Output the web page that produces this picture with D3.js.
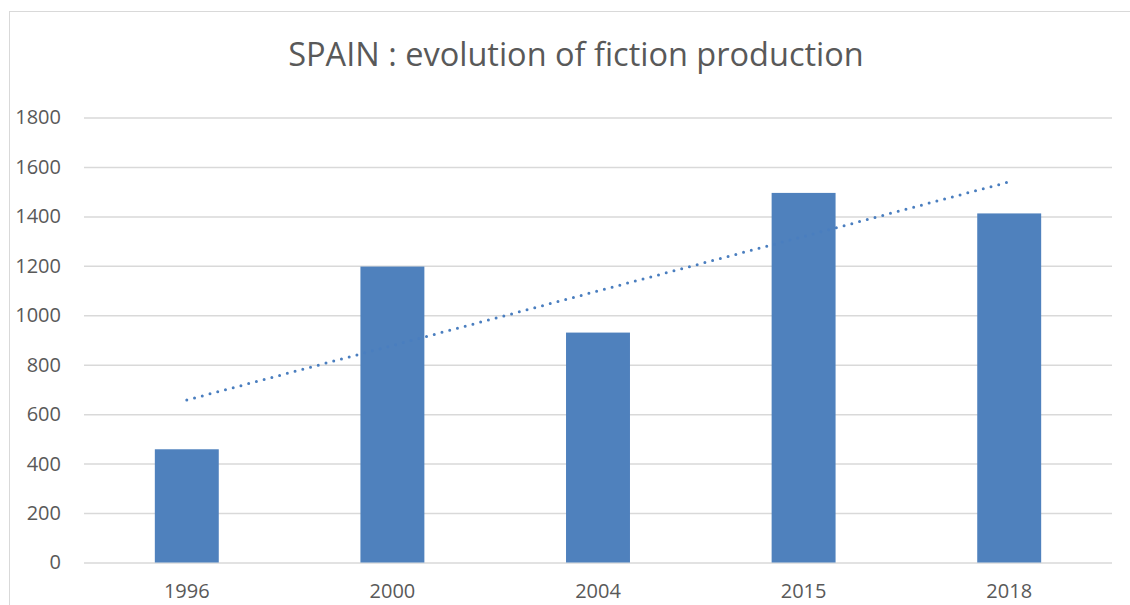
<!DOCTYPE html>
<html>
<head>
<meta charset="utf-8">
<script src="https://cdn.jsdelivr.net/npm/d3@7"></script>
<style>
  body { margin: 0; background: #fff; }
  svg text { font-family: 'Open Sans', sans-serif; fill: #595959; }
</style>
</head>
<body>
<div id="chart"></div>
<script>
const years = ['1996', '2000', '2004', '2015', '2018']
const production = [458, 1197, 930, 1495, 1412]
const yTicks = [0, 200, 400, 600, 800, 1000, 1200, 1400, 1600, 1800]
const title = 'SPAIN : evolution of fiction production'

const width = 1130
const height = 605
const margin = { top: 117.5, bottom: 42.5, left: 84, right: 18 }
const innerWidth = width - margin.left - margin.right
const innerHeight = height - margin.top - margin.bottom

const svg = d3.select('#chart').append('svg')
  .attr('width', width)
  .attr('height', height)

// chart frame
svg.append('rect')
  .attr('x', 9.5)
  .attr('y', 11.5)
  .attr('width', width)
  .attr('height', height)
  .attr('fill', 'none')
  .attr('stroke', '#d9d9d9')
  .attr('stroke-width', 1)

svg.append('text')
  .attr('x', 576)
  .attr('y', 66)
  .attr('text-anchor', 'middle')
  .attr('font-size', 32.5)
  .text(title)

const g = svg.append('g')
  .attr('transform', `translate(${margin.left} ${margin.top})`)

const xScale = d3.scaleBand()
  .domain(years)
  .range([0, innerWidth])

const yScale = d3.scaleLinear()
  .domain([0, 1800])
  .range([innerHeight, 0])

// Y-AXIS + GRID
const yAxis = d3.axisLeft(yScale)
  .tickValues(yTicks)
  .tickFormat(d3.format('d'))
  .tickSizeInner(-innerWidth)
  .tickSizeOuter(0)
  .tickPadding(23)

g.append('g')
  .attr('class', 'y-axis')
  .call(yAxis)
  .call(s => s.select('.domain').remove())
  .call(s => s.selectAll('line').attr('stroke', '#d9d9d9').attr('stroke-width', 1.5))
  .call(s => s.selectAll('text').attr('font-size', 20).attr('fill', '#595959'))

// X-AXIS
const xAxis = d3.axisBottom(xScale)
  .tickSize(0)
  .tickPadding(21)

g.append('g')
  .attr('class', 'x-axis')
  .attr('transform', `translate(0 ${innerHeight})`)
  .call(xAxis)
  .call(s => s.select('.domain').remove())
  .call(s => s.selectAll('text').attr('font-size', 20).attr('fill', '#595959'))

// BARS
const barWidth = xScale.bandwidth() * 0.311
g.append('g')
  .attr('class', 'bars')
  .selectAll('rect')
  .data(production)
  .enter().append('rect')
  .attr('x', (d, i) => xScale(years[i]) + (xScale.bandwidth() - barWidth) / 2)
  .attr('y', d => yScale(d))
  .attr('width', barWidth)
  .attr('height', d => innerHeight - yScale(d))
  .attr('fill', '#4f81bd')

// LINEAR TREND (least squares over category index, like the spreadsheet trendline)
const n = production.length
const xs = production.map((d, i) => i + 1)
const meanX = d3.mean(xs)
const meanY = d3.mean(production)
const slope = d3.sum(xs, (x, i) => (x - meanX) * (production[i] - meanY)) / d3.sum(xs, x => (x - meanX) ** 2)
const intercept = meanY - slope * meanX
const trend = [1, n].map(x => ({ year: years[x - 1], value: intercept + slope * x }))

g.append('path')
  .datum(trend)
  .attr('fill', 'none')
  .attr('stroke', '#4a7ebf')
  .attr('stroke-width', 3)
  .attr('stroke-linecap', 'round')
  .attr('stroke-dasharray', '0 8')
  .attr('d', d3.line()
    .x(d => xScale(d.year) + xScale.bandwidth() / 2)
    .y(d => yScale(d.value)))
</script>
</body>
</html>
